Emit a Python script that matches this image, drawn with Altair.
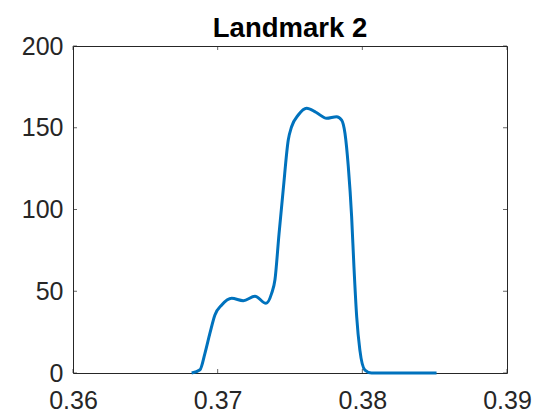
import altair as alt
import pandas as pd

# Curve
x_vals = [0.36820, 0.36878, 0.36912, 0.36947, 0.36981, 0.37028, 0.37097, 0.37177,
          0.37258, 0.37334, 0.37373, 0.37396, 0.37424, 0.37453, 0.37488, 0.37511,
          0.37557, 0.37615, 0.37679, 0.37753, 0.37822, 0.37857, 0.37880, 0.37903,
          0.37926, 0.37942, 0.37961, 0.37983, 0.38018, 0.38064, 0.38260, 0.38513]
y_vals = [0, 2, 12, 24.5, 35.5, 41.6, 45.7, 44.2,
          47, 42.6, 48.7, 57, 85, 112, 142.5, 150.6,
          157.8, 162, 159.5, 155.8, 156.8, 154.7, 146.6, 126.2,
          95.6, 65, 34.4, 14, 1.8, 0, 0, 0]

x_ticks = [0.36, 0.37, 0.38, 0.39]
y_ticks = [0, 50, 100, 150, 200]

W, H = 434, 327
AX = "#262626"
FONT = "Liberation Sans"

df = pd.DataFrame({"x": x_vals, "y": y_vals})
xt = pd.DataFrame({"x": x_ticks})
yt = pd.DataFrame({"y": y_ticks})

xscale = alt.Scale(domain=[0.36, 0.39], nice=False, zero=False)
yscale = alt.Scale(domain=[0, 200], nice=False)

xaxis = alt.Axis(values=x_ticks, format=".2f", title=None, grid=False, domain=False,
                 ticks=False, tickSize=0, labelPadding=15, labelFontSize=25,
                 labelFont=FONT, labelColor=AX, labelFlush=False)
yaxis = alt.Axis(values=y_ticks, title=None, grid=False, domain=False,
                 ticks=False, tickSize=0, labelPadding=10, labelFontSize=25,
                 labelFont=FONT, labelColor=AX, labelFlush=False)

line = alt.Chart(df).mark_line(color="#0072BD", strokeWidth=3, interpolate="monotone").encode(
    x=alt.X("x:Q", scale=xscale, axis=xaxis),
    y=alt.Y("y:Q", scale=yscale, axis=yaxis),
)

tick_bottom = alt.Chart(xt).mark_tick(orient="vertical", size=4, thickness=1, color=AX).encode(
    x=alt.X("x:Q", scale=xscale, axis=xaxis), y=alt.value(H - 2))
tick_top = alt.Chart(xt).mark_tick(orient="vertical", size=4, thickness=1, color=AX).encode(
    x=alt.X("x:Q", scale=xscale, axis=xaxis), y=alt.value(2))
tick_left = alt.Chart(yt).mark_tick(orient="horizontal", size=4, thickness=1, color=AX).encode(
    y=alt.Y("y:Q", scale=yscale, axis=yaxis), x=alt.value(2))
tick_right = alt.Chart(yt).mark_tick(orient="horizontal", size=4, thickness=1, color=AX).encode(
    y=alt.Y("y:Q", scale=yscale, axis=yaxis), x=alt.value(W - 2))

chart = alt.layer(line, tick_bottom, tick_top, tick_left, tick_right).properties(
    width=W, height=H,
    title=alt.TitleParams("Landmark 2", font=FONT, fontSize=27.5, fontWeight="bold",
                          color="#000000", anchor="middle", offset=10, dy=18),
    autosize=alt.AutoSizeParams(type="none"),
    padding={"left": 65, "top": 38, "right": 40, "bottom": 44},
    background="white",
).configure_view(stroke=AX, strokeWidth=1)

chart.save("out.html", embed_options={"renderer": "svg", "actions": False})
